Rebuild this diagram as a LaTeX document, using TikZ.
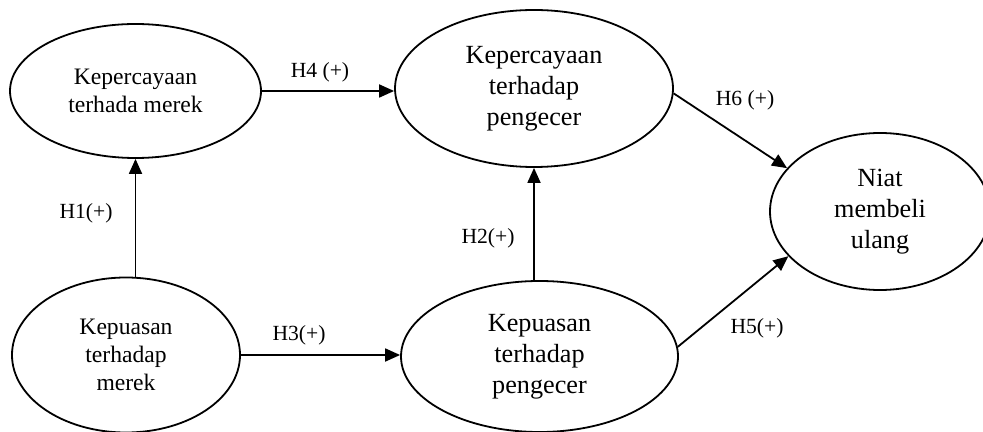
\documentclass[tikz,border=0pt]{standalone}
\usepackage{fontspec}
\setmainfont{Liberation Serif}
\usetikzlibrary{shapes.geometric}
\usetikzlibrary{arrows.meta}
\tikzset{konstruk/.style={draw,ellipse,line width=0.9pt,inner sep=0pt,align=center,minimum width=#1},konstruk/.default=120pt}
\tikzset{kecil/.style={font=\fontsize{11.8}{14}\selectfont}}
\tikzset{besar/.style={font=\fontsize{13.1}{15.5}\selectfont}}
\tikzset{hipo/.style={font=\fontsize{10.8}{13}\selectfont,inner sep=0pt}}
\tikzset{panah/.style={line width=0.9pt,-{Triangle[length=7.5pt,width=6.5pt]}}}

\begin{document}
\begin{tikzpicture}[x=0.5pt,y=-0.5pt]
	\useasboundingbox (0,0) rectangle (983,432);

	% Konstruk
	\node [konstruk=125.5pt,minimum height=67pt,kecil] (KM) at (135.5,91) {Kepercayaan\\terhada merek};
	\node [konstruk=139pt,minimum height=78.5pt,besar] (KP) at (534,88.5) {Kepercayaan\\terhadap\\pengecer};
	\node [konstruk=114pt,minimum height=77.5pt,kecil] (PM) at (126,355) {Kepuasan\\terhadap\\merek};
	\node [konstruk=138.5pt,minimum height=75.5pt,besar] (PP) at (539.5,356.5) {Kepuasan\\terhadap\\pengecer};
	\node [konstruk=110pt,minimum height=78.5pt,besar] (NM) at (880,211.5) {Niat\\membeli\\ulang};

	% Hubungan
	\draw [panah] (KM.south |- PM.north) -- (KM.south);
	\draw [panah] (KP.south |- PP.north) -- (KP.south);
	\draw [panah] (PM.east) -- (PP.west |- PM.east);
	\draw [panah] (KM.east) -- (KP.west |- KM.east);
	\draw [panah] (PP.4) -- (NM.206);
	\draw [panah] (KP.-2) -- (NM.155);

	% Label hipotesis
	\node [hipo] (h1) at (86,213) {H1(+)};
	\node [hipo] (h2) at (488,238) {H2(+)};
	\node [hipo] (h3) at (299,335) {H3(+)};
	\node [hipo] (h4) at (320,72) {H4 (+)};
	\node [hipo] (h5) at (757,328) {H5(+)};
	\node [hipo] (h6) at (745,100) {H6 (+)};

\end{tikzpicture}
\end{document}
